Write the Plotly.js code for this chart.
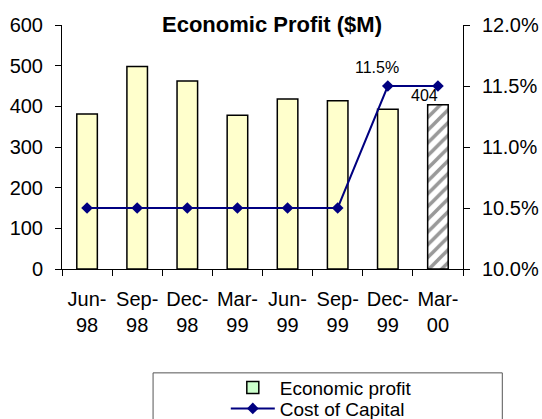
<!DOCTYPE html>
<html>
<head>
<meta charset="utf-8">
<script src="https://cdn.plot.ly/plotly-3.0.1.min.js"></script>
<style>
  html, body { margin: 0; padding: 0; background: #fff; }
  #chart { width: 542px; height: 419px; }
</style>
</head>
<body>
<div id="chart"></div>
<script>
const categories = ['Jun-98', 'Sep-98', 'Dec-98', 'Mar-99', 'Jun-99', 'Sep-99', 'Dec-99', 'Mar-00'];
const economicProfit = [381, 498, 462, 378, 418, 414, 393, 404];
const costOfCapital = [0.105, 0.105, 0.105, 0.105, 0.105, 0.105, 0.115, 0.115];
const tickLabels = categories.map(c => c.replace('-', '-<br>'));
const leftTicks = [0, 100, 200, 300, 400, 500, 600];
const rightTicks = [0.10, 0.105, 0.11, 0.115, 0.12];

const FONT = 'Arial, "Liberation Sans", sans-serif';
const last = categories.length - 1;

const barColors = categories.map((c, i) => i === last ? '#999999' : '#ffffcc');
const barPatterns = categories.map((c, i) => i === last ? '/' : '');

const traces = [
  {
    type: 'bar',
    name: 'Economic profit',
    x: categories,
    y: economicProfit,
    width: 0.41,
    showlegend: false,
    marker: {
      color: barColors,
      line: { color: '#000000', width: 1.5 },
      pattern: { shape: barPatterns, fillmode: 'replace', bgcolor: '#999999', fgcolor: '#ffffaa', fgopacity: 1, size: 9, solidity: 0.4 }
    },
    hoverinfo: 'skip'
  },
  {
    type: 'bar',
    name: 'Economic profit',
    x: [categories[0]],
    y: [null],
    legend: 'legend',
    showlegend: true,
    marker: { color: '#ccffcc', line: { color: '#000000', width: 1.5 } }
  },
  {
    type: 'scatter',
    mode: 'lines+markers',
    name: 'Cost of Capital',
    x: categories,
    y: costOfCapital,
    yaxis: 'y2',
    legend: 'legend2',
    line: { color: '#000080', width: 2 },
    marker: { symbol: 'diamond', size: 9, color: '#000080' }
  }
];

const tickFont = { family: FONT, size: 20, color: '#000000' };

const layout = {
  width: 542,
  height: 419,
  showlegend: true,
  margin: { l: 62, r: 79, t: 25, b: 150, pad: 0, autoexpand: false },
  paper_bgcolor: '#ffffff',
  plot_bgcolor: '#ffffff',
  barmode: 'overlay',
  font: { family: FONT, color: '#000000' },
  title: {
    text: '<b>Economic Profit ($M)</b>',
    font: { family: FONT, size: 22, color: '#000000' },
    x: 272 / 542, xanchor: 'center', xref: 'container',
    y: 1 - 24.5 / 419, yanchor: 'middle', yref: 'container'
  },
  xaxis: {
    type: 'category',
    range: [-0.5, 7.5],
    tickmode: 'array',
    tickvals: categories,
    ticktext: tickLabels,
    tickangle: 0,
    automargin: false,
    tickson: 'boundaries',
    ticks: 'outside', ticklen: 6, tickcolor: '#000000', tickwidth: 1,
    showline: true, linecolor: '#000000', linewidth: 1,
    showgrid: false, zeroline: false,
    tickfont: tickFont,
    ticklabelstandoff: 12,
    fixedrange: true
  },
  xaxis2: {
    overlaying: 'x', anchor: 'y', side: 'bottom',
    range: [-0.5, 7.5],
    tickmode: 'array',
    tickvals: [-0.5, 0.5, 1.5, 2.5, 3.5, 4.5, 5.5, 6.5, 7.5],
    ticks: 'inside', ticklen: 6, tickcolor: '#000000', tickwidth: 1,
    automargin: false,
    showticklabels: false, showline: false, showgrid: false, zeroline: false
  },
  yaxis: {
    range: [0, 600],
    tickmode: 'array', tickvals: leftTicks,
    ticks: 'outside', ticklen: 6, tickcolor: '#000000', tickwidth: 1,
    showline: true, linecolor: '#000000', linewidth: 1,
    showgrid: false, zeroline: false,
    automargin: false,
    tickfont: tickFont,
    ticklabelstandoff: 8,
    fixedrange: true
  },
  yaxis3: {
    overlaying: 'y', anchor: 'x', side: 'left',
    range: [0, 600],
    tickmode: 'array', tickvals: leftTicks,
    ticks: 'inside', ticklen: 6, tickcolor: '#000000', tickwidth: 1,
    automargin: false,
    showticklabels: false, showline: false, showgrid: false, zeroline: false
  },
  yaxis2: {
    overlaying: 'y', side: 'right', anchor: 'x',
    range: [0.10, 0.12],
    tickmode: 'array', tickvals: rightTicks,
    tickformat: '.1%',
    ticks: 'outside', ticklen: 6, tickcolor: '#000000', tickwidth: 1,
    showline: true, linecolor: '#000000', linewidth: 1,
    showgrid: false, zeroline: false,
    automargin: false,
    tickfont: tickFont,
    ticklabelstandoff: 8,
    fixedrange: true
  },
  yaxis4: {
    overlaying: 'y', side: 'right', anchor: 'x',
    range: [0.10, 0.12],
    tickmode: 'array', tickvals: rightTicks,
    ticks: 'inside', ticklen: 6, tickcolor: '#000000', tickwidth: 1,
    automargin: false,
    showticklabels: false, showline: false, showgrid: false, zeroline: false
  },
  legend: {
    x: 0.4085, xanchor: 'left',
    y: -0.486, yanchor: 'middle',
    bgcolor: 'rgba(0,0,0,0)', borderwidth: 0,
    itemwidth: 44,
    font: { family: FONT, size: 19, color: '#000000' }
  },
  legend2: {
    x: 0.4085, xanchor: 'left',
    y: -0.572, yanchor: 'middle',
    bgcolor: 'rgba(0,0,0,0)', borderwidth: 0,
    itemwidth: 44,
    font: { family: FONT, size: 19, color: '#000000' }
  },
  shapes: [
    {
      type: 'rect', xref: 'paper', yref: 'paper',
      x0: 0.2271, x1: 1.098, y0: -0.4257, y1: -0.75,
      line: { color: '#555555', width: 1 }, fillcolor: 'rgba(0,0,0,0)', layer: 'below'
    }
  ],
  annotations: [
    {
      x: categories[6], y: costOfCapital[6], xref: 'x', yref: 'y2',
      text: (costOfCapital[6] * 100).toFixed(1) + '%',
      showarrow: false, xshift: -11, yshift: 19,
      font: { family: FONT, size: 16, color: '#000000' }
    },
    {
      x: categories[last], y: economicProfit[last], xref: 'x', yref: 'y',
      text: String(economicProfit[last]),
      showarrow: false, xshift: -13, yshift: 9,
      font: { family: FONT, size: 16, color: '#000000' }
    }
  ],
  hovermode: false
};

Plotly.newPlot('chart', traces, layout, { displayModeBar: false, staticPlot: true });
</script>
</body>
</html>
